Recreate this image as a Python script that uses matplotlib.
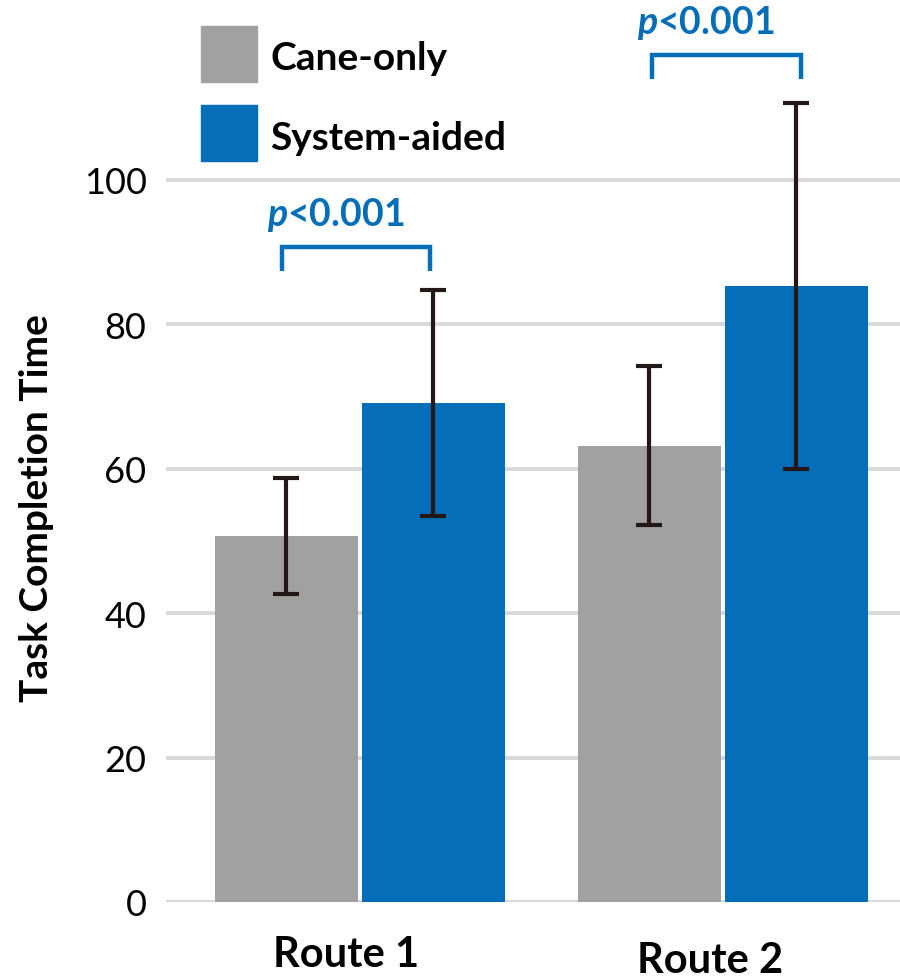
import matplotlib
matplotlib.use("Agg")
import matplotlib.pyplot as plt
import numpy as np
from matplotlib.patches import Rectangle

plt.rcParams['font.family'] = ['Lato', 'DejaVu Sans']
plt.rcParams['mathtext.fontset'] = 'custom'
plt.rcParams['mathtext.rm'] = 'Lato'
plt.rcParams['mathtext.bfit'] = 'Lato:italic:bold'
plt.rcParams['mathtext.it'] = 'Lato:italic'
plt.rcParams['mathtext.bf'] = 'Lato:bold'

routes = ["Route 1", "Route 2"]
series = ["Cane-only", "System-aided"]
cane_mean = [50.7, 63.2]
cane_err = [8.0, 11.0]
sys_mean = [69.1, 85.3]
sys_err = [15.6, 25.3]
yticks = [0, 20, 40, 60, 80, 100]
p_labels = ["p<0.001", "p<0.001"]
bracket_y = [87.4, 114.0]

gray = "#A0A1A0"
blue = "#046EB8"
dark = "#231815"

fig = plt.figure(figsize=(9, 9.78), dpi=100)
W, H = 900, 978
ax = fig.add_axes([166 / W, 75 / H, (900 - 166) / W, 903 / H])

PX = 363.0  # pixels per group unit
x = np.arange(len(routes))
off = 73.5 / PX
bw = 143 / PX

ax.bar(x - off, cane_mean, bw, color=gray, zorder=3)
ax.bar(x + off, sys_mean, bw, color=blue, zorder=3)
ekw = dict(fmt='none', ecolor=dark, elinewidth=3.0, capsize=9.5, capthick=3.0, zorder=4)
ax.errorbar(x - off, cane_mean, yerr=cane_err, **ekw)
ax.errorbar(x + off, sys_mean, yerr=sys_err, **ekw)

ax.set_xlim(-0.534, 1.4876)
ax.set_ylim(0, 903 / 7.22)
ax.set_yticks(yticks)
ax.set_yticklabels([str(v) for v in yticks], fontsize=26)
ax.tick_params(axis='y', length=0, pad=14)
ax.tick_params(axis='x', length=0)
ax.set_xticks([])
for s in ax.spines.values():
    s.set_visible(False)
for v in yticks:
    ax.axhline(v, color="#D9D9D9", lw=2.9, zorder=1, xmin=0, xmax=1)

# route labels
lab_dx = [-14, -13]
lab_dy = [-0.058, -0.064]
for i, r in enumerate(routes):
    ax.text(i + lab_dx[i] / PX, lab_dy[i], r, transform=ax.get_xaxis_transform(),
            ha='center', va='center', fontsize=30, fontweight='bold', clip_on=False)

# significance brackets
br_dl = [-4, 3]
br_dr = [-3, 5]
for i in range(len(routes)):
    xl = i - off + br_dl[i] / PX
    xr = i + off + br_dr[i] / PX
    yb = bracket_y[i]
    yt = yb + 3.3
    ax.plot([xl, xl, xr, xr], [yb, yt, yt, yb], color=blue, lw=3.2, clip_on=False,
            solid_joinstyle='miter', solid_capstyle='butt', zorder=5)
    ax.text((xl + xr) / 2 - 21 / PX, yt + 1.9, r"$\bfit{p}$" + "<0.001", color=blue,
            ha='center', va='bottom', fontsize=27, fontweight='bold', clip_on=False)

fig.text(37 / W, 1 - 508 / H, "Task Completion Time", fontsize=28, fontweight='bold',
         rotation=90, ha='center', va='center')

# legend
for j, (lab, col) in enumerate(zip(series, [gray, blue])):
    y0 = 27 + j * 79
    fig.patches.append(Rectangle((201 / W, 1 - (y0 + 56) / H), 56 / W, 56 / H,
                                 transform=fig.transFigure, color=col))
    fig.text(270 / W, 1 - (y0 + 32) / H, lab, fontsize=28, fontweight='bold',
             ha='left', va='center')

fig.savefig("out.png", dpi=100)
